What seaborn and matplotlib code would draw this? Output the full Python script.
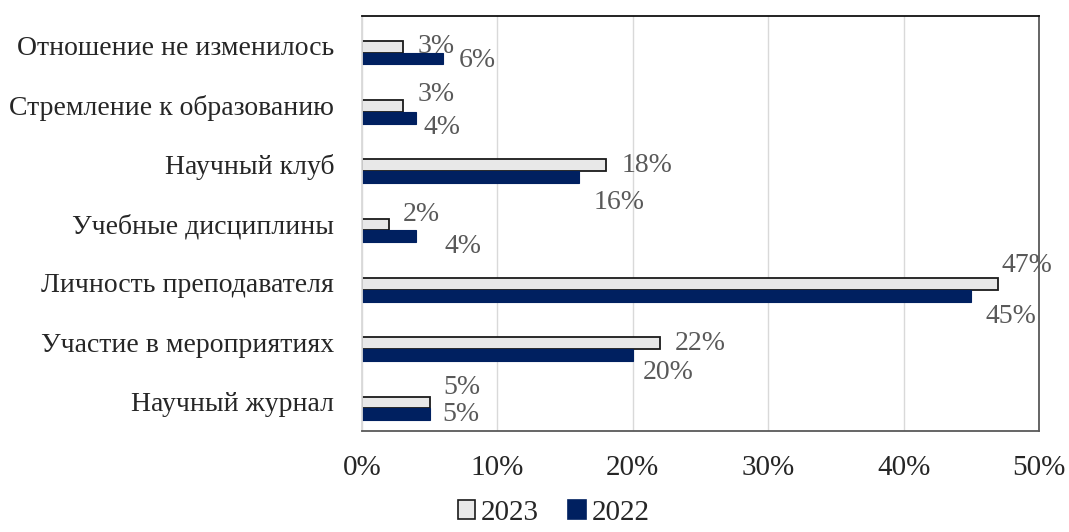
import matplotlib
matplotlib.use("Agg")
import matplotlib.pyplot as plt
import seaborn as sns
import pandas as pd
from matplotlib.patches import Patch

categories = ["Отношение не изменилось", "Стремление к образованию", "Научный клуб",
              "Учебные дисциплины", "Личность преподавателя", "Участие в мероприятиях",
              "Научный журнал"]
values_2023 = [3, 3, 18, 2, 47, 22, 5]
values_2022 = [6, 4, 16, 4, 45, 20, 5]
series = ["2023", "2022"]
xticks = [0, 10, 20, 30, 40, 50]
xtick_labels = ["0%", "10%", "20%", "30%", "40%", "50%"]

df = pd.DataFrame({
    "cat": categories * 2,
    "val": values_2023 + values_2022,
    "year": ["2023"] * len(categories) + ["2022"] * len(categories),
})

sns.set_theme(style="white")
plt.rcParams["font.family"] = ["Liberation Serif", "DejaVu Serif"]

colors = {"2023": "#E8E8E8", "2022": "#002060"}
edges = {"2023": "#1a1a1a", "2022": "#002060"}

fig = plt.figure(figsize=(10.69, 5.32), dpi=100)
ax = fig.add_axes([0.3386, 0.1898, 0.9720 - 0.3386, 0.970 - 0.1898])

sns.barplot(data=df, y="cat", x="val", hue="year", hue_order=series, order=categories,
            palette=colors, width=0.4, orient="h", ax=ax, legend=False, saturation=1)

for cont, s in zip(ax.containers, series):
    for p in cont:
        p.set_edgecolor(edges[s])
        p.set_linewidth(1.3 if s == "2023" else 0.8)

shift = 0.118
ax.set_xlim(0, 50)
ax.set_ylim(6.5 - shift, -0.5 - shift)
ax.set_yticks([i - shift for i in range(len(categories))])
ax.set_yticklabels(categories)
ax.set_xticks(xticks)
ax.set_xticklabels(xtick_labels, fontsize=21)
ax.tick_params(axis="x", length=0, pad=17)
ax.tick_params(axis="y", length=0, pad=20, labelsize=20)
ax.set_xlabel("")
ax.set_ylabel("")
ax.grid(axis="x", color="#D9D9D9", linewidth=1)
ax.grid(axis="y", visible=False)
ax.set_axisbelow(True)
ax.spines["left"].set_color("#D9D9D9")
ax.spines["top"].set_color("#111111")
ax.spines["right"].set_color("#595959")
ax.spines["bottom"].set_color("#595959")
for sp in ax.spines.values():
    sp.set_linewidth(1.3)

# label offsets in pixels (dx, dy), dy positive = down
off_2023 = [(15, 0), (15, -11), (16, 0), (14, -10), (3, -18), (15, 0), (14, -15)]
off_2022 = [(16, 2), (7, 10), (15, 25), (28, 10), (14, 21), (10, 17), (13, 0)]
for cont, s, offs in zip(ax.containers, series, [off_2023, off_2022]):
    for p, (dx, dy) in zip(cont, offs):
        w = p.get_width()
        yc = p.get_y() + p.get_height() / 2
        ax.annotate(f"{w:g}%", (w, yc), xytext=(dx * 0.72, -dy * 0.72),
                    textcoords="offset points", ha="left", va="center",
                    fontsize=20, color="#595959", annotation_clip=False)

handles = [Patch(facecolor=colors[s], edgecolor=edges[s], linewidth=1.2, label=s) for s in series]
fig.legend(handles=handles, loc="lower center", bbox_to_anchor=(0.518, -0.038), ncol=2,
           frameon=False, fontsize=21, handlelength=0.6, handleheight=0.6,
           handletextpad=0.2, columnspacing=1.0)

fig.savefig("out.png", dpi=100)
